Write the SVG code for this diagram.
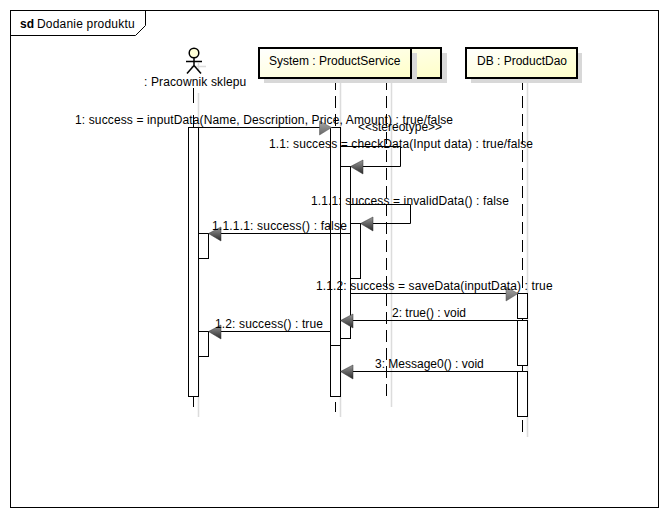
<svg xmlns="http://www.w3.org/2000/svg" width="670" height="518" viewBox="0 0 670 518">
<style>
text{font-family:"Liberation Sans",Arial,sans-serif;font-size:12px;fill:#000}
.l{fill:none;stroke:#000;stroke-width:1}
.fig{fill:none;stroke:#000;stroke-width:1.5}
.figs{fill:none;stroke:#dcdcdc;stroke-width:1.5}
.ll{fill:none;stroke:#000;stroke-width:1;stroke-dasharray:12 6}
.sh{fill:none;stroke:#dcdcdc;stroke-width:1.5}
.box{fill:url(#g);stroke:#000;stroke-width:2}
.bs{fill:#d8d8d8;stroke:none}
.act{fill:#fff;stroke:#000;stroke-width:1}
.al{fill:url(#al);stroke:#333;stroke-width:.5}
.ar{fill:url(#ar);stroke:#555;stroke-width:.5}
.s1{letter-spacing:.13px}
.s2{letter-spacing:.19px}
</style>
<defs>
<linearGradient id="g" x1="0" y1="0" x2="1" y2="1"><stop offset="0" stop-color="#fff"/><stop offset="1" stop-color="#ffffc8"/></linearGradient>
<linearGradient id="al" x1="0" y1="0" x2="0" y2="1"><stop offset="0" stop-color="#999"/><stop offset="1" stop-color="#2a2a2a"/></linearGradient>
<linearGradient id="ar" x1="0" y1="0" x2="0" y2="1"><stop offset="0" stop-color="#aaa"/><stop offset="1" stop-color="#666"/></linearGradient>
</defs>
<rect width="670" height="518" fill="#fff"/>
<g id="frame">
<rect class="l" x="10.5" y="10.5" width="648" height="497"/>
<path class="l" d="M10.5 35.500H135.500L145.500 25.500V10.500"/>
<text x="20" y="28" style="font-weight:bold">sd</text>
<text x="37" y="28" class="s2">Dodanie produktu</text>
</g>
<g id="shadows">
<path class="sh" d="M198.500 93V417M340.500 83V417M391.500 83V407M527.500 83V437"/>
<path class="figs" d="M198.500 63V71M191 66.500H206"/>
</g>
<g id="actor">
<circle cx="194" cy="53" r="4.800" fill="#ffffd8" stroke="#000" stroke-width="1.500"/>
<path class="fig" d="M194 58V65.500M186 61.500H202M194 65.500L187 73.500M194 65.500L201 73.500"/>
<text x="144" y="86" class="s1">: Pracownik sklepu</text>
</g>
<g id="lifelines">
<path class="l" d="M193.500 88V103M193.500 115V127M193.500 397V407"/>
<path class="ll" d="M335.500 78V412"/>
<path class="ll" d="M386.500 78V396"/>
<path class="ll" d="M522.500 78V432"/>
</g>
<g id="node-system2">
<rect class="bs" x="268" y="53" width="179" height="30"/>
<rect class="box" x="259" y="48" width="182" height="30"/>
</g>
<g id="node-system">
<rect class="bs" x="264" y="53" width="153" height="30"/>
<rect class="box" x="259" y="48" width="152" height="30"/>
<text x="269" y="65">System : ProductService</text>
</g>
<g id="node-db">
<rect class="bs" x="471" y="53" width="111" height="30"/>
<rect class="box" x="466" y="48" width="111" height="30"/>
<text x="477" y="65">DB : ProductDao</text>
</g>
<g id="activations">
<rect class="act" x="188.500" y="127.500" width="10" height="269"/>
<rect class="act" x="198.500" y="233.500" width="10" height="25"/>
<rect class="act" x="198.500" y="331.500" width="10" height="25"/>
<rect class="act" x="330.500" y="127.500" width="10" height="218"/>
<rect class="act" x="330.500" y="345.500" width="10" height="51"/>
<rect class="act" x="340.500" y="166.500" width="10" height="172"/>
<rect class="act" x="350.500" y="223.500" width="10" height="55"/>
<rect class="act" x="517.500" y="293.500" width="10" height="25"/>
<rect class="act" x="517.500" y="320.500" width="10" height="45"/>
<rect class="act" x="517.500" y="371.500" width="10" height="45"/>
</g>
<g id="connectors">
<path class="l" d="M198.500 127.500H330.500"/>
<path class="ar" d="M319.500 121V135L331.500 127.500Z"/>
<path class="l" d="M340.500 146.500H400.500V166.500H350.500"/>
<path class="al" d="M350.500 166.500L363 160V174Z"/>
<path class="l" d="M350.500 204.500H410.500V223.500H360.500"/>
<path class="al" d="M360.500 223.500L373 217V231Z"/>
<path class="l" d="M350.500 233.500H208.500"/>
<path class="al" d="M208.500 233.500L221 227V241Z"/>
<path class="l" d="M350.500 293.500H517.500"/>
<path class="ar" d="M506 287V301L518 293.500Z"/>
<path class="l" d="M517.500 320.500H340.500"/>
<path class="al" d="M340.500 320.500L353 314V328Z"/>
<path class="l" d="M330.500 331.500H208.500"/>
<path class="al" d="M208.500 331.500L221 325V339Z"/>
<path class="l" d="M517.500 371.500H340.500"/>
<path class="al" d="M340.500 371.500L353 365V379Z"/>
</g>
<g id="labels">
<text x="75" y="124" class="s1">1: success = inputData(Name, Description, Price, Amount) : true/false</text>
<text x="358" y="131">&lt;&lt;stereotype&gt;&gt;</text>
<text x="269" y="148" class="s1">1.1: success = checkData(Input data) : true/false</text>
<text x="311" y="205" class="s1">1.1.1: success = invalidData() : false</text>
<text x="212" y="230" class="s2">1.1.1.1: success() : false</text>
<text x="316" y="290" class="s1">1.1.2: success = saveData(inputData) : true</text>
<text x="392" y="317">2: true() : void</text>
<text x="215" y="328" class="s1">1.2: success() : true</text>
<text x="375" y="368">3: Message0() : void</text>
</g>
</svg>
